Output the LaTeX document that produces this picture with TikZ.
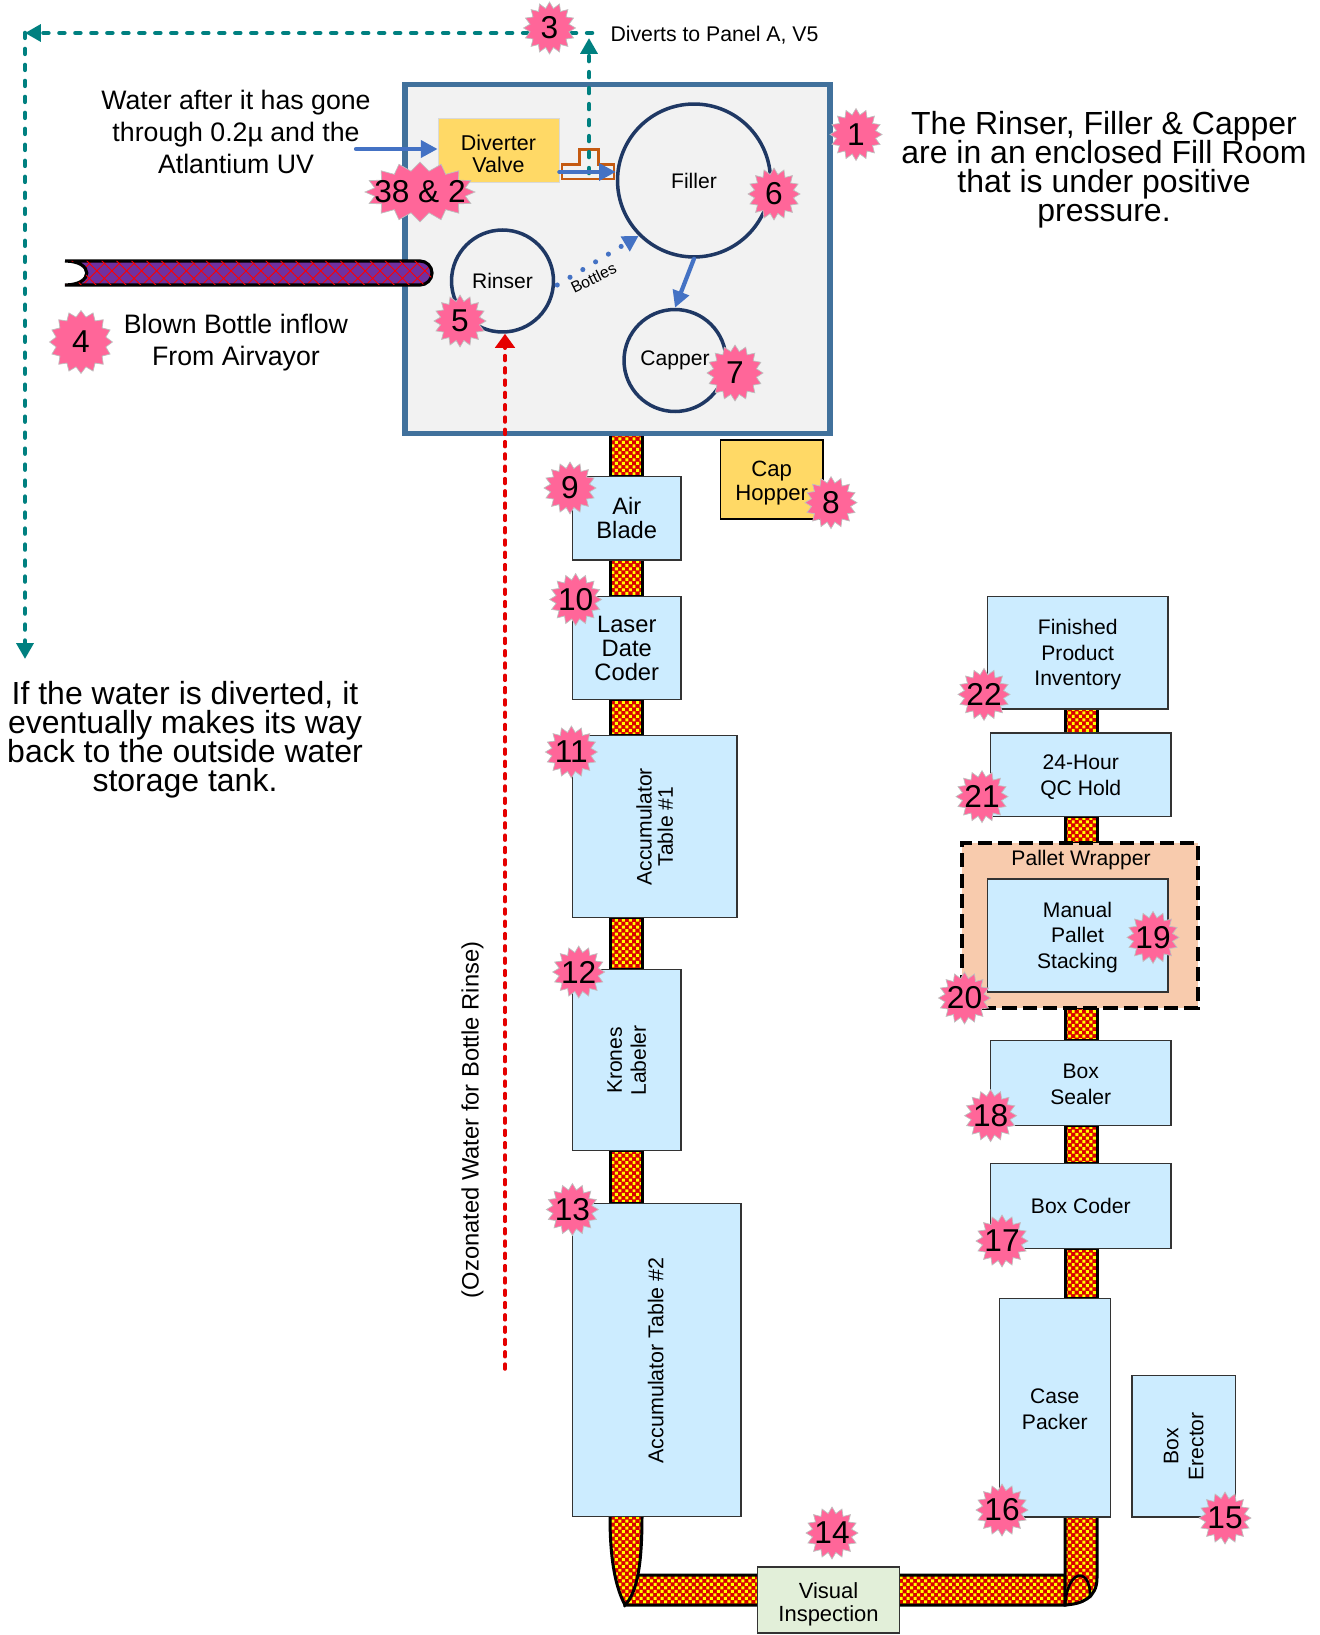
\documentclass[tikz,border=0pt]{standalone}
\usepackage{fontspec}
\setmainfont{Liberation Sans}
\definecolor{roomblue}{RGB}{65, 113, 156}
\definecolor{roomgrey}{RGB}{242, 242, 242}
\definecolor{ringnavy}{RGB}{31, 56, 100}
\definecolor{flowblue}{RGB}{68, 114, 196}
\definecolor{divertteal}{RGB}{0, 128, 128}
\definecolor{machineblue}{RGB}{204, 236, 255}
\definecolor{hopperyellow}{RGB}{255, 217, 102}
\definecolor{inspectgreen}{RGB}{226, 239, 217}
\definecolor{wrappeach}{RGB}{248, 203, 173}
\definecolor{burstpink}{RGB}{255, 102, 153}
\definecolor{teeorange}{RGB}{197, 90, 17}
\definecolor{tubepurple}{RGB}{112, 48, 160}
\usetikzlibrary{shapes.geometric, shapes.symbols, arrows.meta, positioning, calc, backgrounds, patterns, patterns.meta}
\pgfdeclarepatternformonly{finecheck}{\pgfqpoint{-0.1pt}{-0.1pt}}{\pgfqpoint{4.1pt}{4.1pt}}{\pgfqpoint{4pt}{4pt}}{
    \pgfpathrectangle{\pgfqpoint{0pt}{0pt}}{\pgfqpoint{1.7pt}{1.7pt}}
    \pgfpathrectangle{\pgfqpoint{2pt}{2pt}}{\pgfqpoint{1.7pt}{1.7pt}}
    \pgfusepath{fill}
}

\begin{document}
\begin{tikzpicture}[
    x=0.02cm, y=-0.02cm,
    machine/.style={rectangle, draw=black!80, fill=machineblue, line width=0.6pt, outer sep=0pt, inner sep=0pt, align=center, font=\fontsize{12}{14.6}\selectfont},
    ring/.style={circle, draw=ringnavy, line width=2pt, inner sep=0pt, align=center, font=\fontsize{12}{14}\selectfont},
    burst/.style={starburst, starburst points=16, starburst point height=3.5pt, random starburst=0, draw=black!25, line width=0.4pt, fill=burstpink, inner xsep=-7pt, inner ysep=-4pt, minimum width=1.04cm, minimum height=1.04cm, font=\fontsize{18}{20}\selectfont},
    note/.style={align=center, inner sep=0pt, font=\fontsize{15.2}{18.3}\selectfont},
    bignote/.style={align=center, inner sep=0pt, font={\fontsize{18.2}{16.5}\selectfont\setlength{\lineskiplimit}{-20pt}}},
    belt/.style={draw=black, line width=1.7pt, preaction={fill=red!85!black}, pattern=finecheck, pattern color=yellow},
    flow/.style={-{Triangle[length=9.5pt,width=9.5pt]}, line width=2.4pt, flowblue, line cap=round},
    divert/.style={line width=2.6pt, divertteal, line cap=round, dash pattern=on 2.8pt off 6.3pt},
    divertend/.style={divert, -{Triangle[length=9pt,width=9.5pt]}}
]
    \useasboundingbox (0,0) rectangle (1319,1635);

    % Fill room
    \node[draw=roomblue, fill=roomgrey, line width=3pt, minimum width=8.5cm, minimum height=6.98cm, outer sep=0pt] (room) at (617.5,259) {};
    \node[ring, minimum size=3.06cm] (filler) at (694,180.5) {Filler};
    \node[ring, minimum size=2.04cm] (rinser) at (502.5,281) {Rinser};
    \node[ring, minimum size=2.04cm] (capper) at (675,360.5) {Capper};
    \node[rectangle, draw=black!15, fill=hopperyellow, minimum width=2.42cm, minimum height=1.28cm, align=center, inner sep=0pt, font=\fontsize{12.2}{12.5}\selectfont] (valve) at (498.5,150) {\rule{0pt}{13pt}Diverter\\Valve};

    % Blown bottle tube
    \draw[line width=1.8pt, preaction={fill=tubepurple}, pattern={Lines[angle=45,distance=6pt,line width=0.5pt]}, pattern color=red, postaction={pattern={Lines[angle=-45,distance=6pt,line width=0.5pt]}, pattern color=red}]
        (65,261) -- (420,261) arc[start angle=-90, end angle=90, radius=12] -- (65,285) .. controls (94,285) and (94,261) .. (65,261);

    % Line from valve to filler
    \draw[teeorange, line width=1.2pt] (562,164.5) -- (579.5,164.5) -- (579.5,149.5) -- (598.5,149.5) -- (598.5,164.5) -- (614,164.5) -- (614,179) -- (562,179) -- cycle;
    \coordinate (tap) at (589,173);
    \coordinate (tapup) at (589,38);
    \coordinate (corner) at (25,33);
    \coordinate (divertend) at (592,33);
    \coordinate (tankend) at (25,659);
    \coordinate (waterin) at (356,149);
    \coordinate (ozone) at (505,1369);
    \draw[divertend] (tap) -- (tapup);
    \draw[divertend] (divertend) -- (corner);
    \draw[divertend] (corner) -- (tankend);
    \draw[flow] (waterin) -- (valve.west |- waterin);
    \draw[flow] (valve.east |- 0,172) -- (filler.west |- 0,172);
    \draw[flow] (filler.south) -- (capper.north);
    \draw[line width=2.9pt, flowblue, line cap=round, dash pattern=on 0pt off 8.5pt, -{Triangle[length=9pt,width=9.5pt]}] (rinser.east) ++(2,4) -- (filler.south west);
    \node[rotate=26, inner sep=0pt, font=\fontsize{9}{10}\selectfont] (bottles) at (593.5,278) {Bottles};
    \draw[red!90!black, line width=2pt, line cap=round, dash pattern=on 2.8pt off 4.2pt, -{Triangle[length=8pt,width=11pt]}] (ozone) -- (rinser.south -| ozone);

    % Left line
    \coordinate (beltl) at (626,0);
    \node[machine, minimum width=2.17cm, minimum height=1.67cm, font=\fontsize{13.5}{13.6}\selectfont] (blade) at (626.75,518.25) {Air\\Blade};
    \node[machine, below=0.73cm of blade, minimum width=2.17cm, minimum height=2.07cm, font=\fontsize{13.5}{13.6}\selectfont] (laser) {Laser\\Date\\Coder};
    \node[machine, below=0.72cm of laser.south west, anchor=north west, minimum width=3.29cm, minimum height=3.63cm] (acc1) {};
    \node[rotate=90, align=center, inner sep=0pt, font=\fontsize{12}{12}\selectfont] (acc1text) at (acc1) {Accumulator\\Table \#1};
    \node[machine, below=1.05cm of acc1.south west, anchor=north west, minimum width=2.17cm, minimum height=3.62cm] (krones) {};
    \node[rotate=90, align=center, inner sep=0pt, font=\fontsize{12}{13.6}\selectfont] (kronestext) at (krones) {Krones\\Labeler};
    \node[machine, below=1.06cm of krones.south west, anchor=north west, minimum width=3.37cm, minimum height=6.26cm] (acc2) {};
    \node[rotate=90, inner sep=0pt, font=\fontsize{12.2}{14}\selectfont] (acc2text) at ($(acc2)+(-1,0)$) {Accumulator Table \#2};
    \node[machine, draw=black, font=\fontsize{12.6}{13.4}\selectfont, fill=hopperyellow, minimum width=2.05cm, minimum height=1.58cm] (hopper) at (771.75,479.5) {\rule{0pt}{13pt}Cap\\Hopper};
    \node[machine, fill=inspectgreen, minimum width=2.83cm, minimum height=1.32cm, font=\fontsize{12.5}{13.2}\selectfont] (visual) at (828.5,1600) {\rule{0pt}{13.5pt}Visual\\Inspection};

    % Right line
    \coordinate (beltr) at (1081,0);
    \node[machine, minimum width=3.61cm, minimum height=2.25cm] (finished) at (1077.75,652.75) {\rule{0pt}{11pt}Finished\\Product\\Inventory};
    \node[machine, minimum width=3.61cm, minimum height=1.67cm] (hold) at (1080.75,774.75) {\rule{0pt}{11pt}24-Hour\\QC Hold};
    \node[draw=black, fill=wrappeach, line width=2.2pt, dash pattern=on 8pt off 3.5pt, minimum width=4.72cm, minimum height=3.29cm, outer sep=0pt] (wrapper) at (1080,925.35) {};
    \node[inner sep=0pt, font=\fontsize{12}{14}\selectfont] (wrapperlabel) at (1081,860) {Pallet Wrapper};
    \node[machine, minimum width=3.62cm, minimum height=2.26cm] (stacking) at (1077.5,935.5) {\rule{0pt}{11pt}Manual\\Pallet\\Stacking};
    \node[machine, minimum width=3.61cm, minimum height=1.69cm] (sealer) at (1080.75,1082.8) {\rule{0pt}{10pt}Box\\Sealer};
    \node[machine, below=0.77cm of sealer, minimum width=3.61cm, minimum height=1.69cm] (coder) {Box Coder};
    \node[machine, minimum width=2.23cm, minimum height=4.38cm] (packer) at (1054.75,1407.5) {\rule{0pt}{10pt}Case\\Packer};
    \node[machine, right=0.43cm of packer.south east, anchor=south west, minimum width=2.07cm, minimum height=2.83cm] (erector) {};
    \node[rotate=90, align=center, inner sep=0pt, font=\fontsize{12}{14.2}\selectfont] (erectortext) at (erector) {Box\\Erector};

    % Conveyors
    \begin{scope}[on background layer]
        \foreach \from/\to in {room/blade, blade/laser, laser/acc1, acc1/krones, krones/acc2}
            \draw[belt] ($(\from.south -| beltl)+(-16,0)$) rectangle ($(\to.north -| beltl)+(16,0)$);
        \foreach \from/\to in {finished/hold, hold/wrapper, wrapper/sealer, sealer/coder, coder/packer}
            \draw[belt] ($(\from.south -| beltr)+(-16,0)$) rectangle ($(\to.north -| beltr)+(16,0)$);
        \draw[belt] (625,1605) -- (630,1575) -- (1065,1575) -- (1065,1605) -- cycle;
        \draw[belt] (610,1517) .. controls (610,1565) and (617,1590) .. (625,1605) .. controls (638,1592) and (642,1560) .. (642,1517);
        \draw[belt] (1065,1517) -- (1065,1605) .. controls (1082,1604) and (1097,1598) .. (1097,1578) -- (1097,1517);
        \draw[line width=1.5pt] (1065,1605) .. controls (1067,1580) and (1077,1572) .. (1084,1577) .. controls (1090,1582) and (1090,1590) .. (1090,1598);
    \end{scope}

    % Text
    \node[inner sep=0pt, font=\fontsize{12.1}{14}\selectfont] (diverts) at (714.5,35) {Diverts to Panel A, V5};
    \node[note] (watertext) at (236,132) {Water after it has gone\\through 0.2µ and the\\Atlantium UV};
    \node[note] (inflowtext) at (236,343) {Blown Bottle inflow\\From Airvayor};
    \node[bignote] (roomtext) at (1104,170) {The Rinser, Filler \& Capper\\are in an enclosed Fill Room\\that is under positive\\pressure.};
    \node[bignote] (tanktext) at (185,740) {If the water is diverted, it\\eventually makes its way\\back to the outside water\\storage tank.};
    \node[rotate=90, inner sep=0pt, font=\fontsize{13.5}{15}\selectfont] (ozonetext) at (472.5,1120) {(Ozonated Water for Bottle Rinse)};

    % Numbers
    \node[burst] (n1) at (856,134.5) {1};
    \node[burst, starburst point height=5pt, inner xsep=-13pt, minimum width=2.2cm, minimum height=1.2cm] (n2) at (420,192) {38 \& 2};
    \node[burst] (n3) at (549.5,28) {3};
    \node[burst, minimum width=1.26cm, minimum height=1.26cm] (n4) at (81,342) {4};
    \node[burst] (n5) at (460,321) {5};
    \node[burst] (n6) at (774,194) {6};
    \node[burst, minimum width=1.12cm, minimum height=1.12cm] (n7) at (735,373) {7};
    \node[burst] (n8) at (831,502.6) {8};
    \node[burst] (n9) at (570,488) {9};
    \node[burst] (n10) at (575.6,599.5) {10};
    \node[burst] (n11) at (571.4,752) {11};
    \node[burst] (n12) at (578.7,972) {12};
    \node[burst] (n13) at (572.4,1209.5) {13};
    \node[burst] (n14) at (832,1533) {14};
    \node[burst] (n15) at (1225,1518) {15};
    \node[burst] (n16) at (1002,1510) {16};
    \node[burst] (n17) at (1002,1241) {17};
    \node[burst] (n18) at (990.6,1115.7) {18};
    \node[burst] (n19) at (1153,937.4) {19};
    \node[burst] (n20) at (964.5,998) {20};
    \node[burst] (n21) at (982,796.6) {21};
    \node[burst] (n22) at (984,694.4) {22};
\end{tikzpicture}
\end{document}
